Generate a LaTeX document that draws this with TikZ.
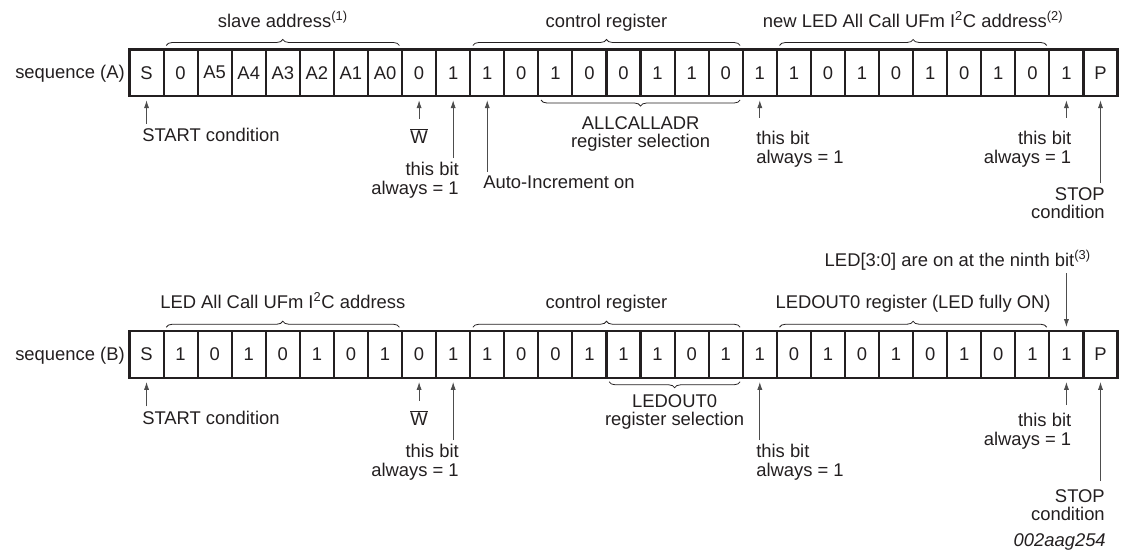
\documentclass[tikz,border=0pt]{standalone}
\usepackage{fontspec}
\setmainfont{Liberation Sans}
\usepackage{tikz}
\usetikzlibrary{positioning,arrows.meta,decorations.pathreplacing,calc}
\definecolor{ink}{HTML}{231F20}
\definecolor{wire}{HTML}{4D4D4D}
\newcommand{\cw}{34.07}
\newcommand{\lblsize}{\fontsize{13.8pt}{13.9pt}\selectfont}
\tikzset{
  bitbox/.style={rectangle,draw=ink,line width=1.6pt,minimum width=25.55pt,
    minimum height=34.9pt,inner sep=0pt,outer sep=0pt,text=ink},
  brc/.style={decorate,decoration={brace,amplitude=4.5pt},draw=ink,line width=0.6pt},
  brcd/.style={decorate,decoration={brace,mirror,amplitude=4.5pt},draw=ink,line width=0.6pt},
  ar/.style={-{Latex[length=5.8pt,width=3.8pt]},draw=wire,line width=0.6pt,
    shorten >=3.2pt,shorten <=3pt},
  lbl/.style={inner sep=0pt,text=ink},
}

\begin{document}
\begin{tikzpicture}[x=0.75pt,y=-0.75pt,font=\lblsize]
  \useasboundingbox (0,0) rectangle (1121,554);
  % sequence (A)
  \foreach \b [count=\i from 0] in {S,0,A5,A4,A3,A2,A1,A0,0,1,1,0,1,0,0,1,1,0,1,1,0,1,0,1,0,1,0,1,P}
    \node[bitbox] (A\i) at ({129.5+\cw*(\i+0.5)},72.75) {\b};
  \node[lbl,anchor=base east] (seqa) at (125,78) {sequence (A)};
  \foreach \p/\q in {1/7,10/17,19/26}
    \draw[brc] ([xshift=2pt,yshift=3pt]A\p.north west) -- ([xshift=-2pt,yshift=3pt]A\q.north east);
  \draw[brcd] ([xshift=2pt,yshift=-3pt]A12.south west) -- ([xshift=-2pt,yshift=-3pt]A17.south east);
  \node[lbl,anchor=base] (slva) at (282.8,27) {slave address\textsuperscript{(1)}};
  \node[lbl,anchor=base] (ctla) at (606.5,27) {control register};
  \node[lbl,anchor=base] (newa) at (913.1,27) {new LED All Call UFm I\textsuperscript{2}C address\textsuperscript{(2)}};
  \node[lbl,anchor=base west] (sta) at (142,141.5) {START condition};
  \node[lbl,anchor=base] (wra) at (419.1,143.5) {$\overline{\mbox{W}}$};
  \node[lbl,anchor=north east,align=right] (ona) at (459,162) {this bit\\always = 1};
  \node[lbl,anchor=base west] (aia) at (483,188.5) {Auto-Increment on};
  \node[lbl,anchor=north,align=center] (sela) at (640.6,116) {ALLCALLADR\\register selection};
  \node[lbl,anchor=north west,align=left] (onb) at (756,131) {this bit\\always = 1};
  \node[lbl,anchor=north east,align=right] (onc) at (1071.5,131) {this bit\\always = 1};
  \node[lbl,anchor=north east,align=right] (spa) at (1105,187) {STOP\\condition};
  \draw[ar] (A0 |- sta.north) -- (A0.south);
  \draw[ar,shorten <=7pt] (A8 |- wra.north) -- (A8.south);
  \draw[ar] (A9 |- ona.north) -- (A9.south);
  \draw[ar] (A10 |- aia.north) -- (A10.south);
  \draw[ar,shorten <=10pt] (A18 |- onb.north) -- (A18.south);
  \draw[ar,shorten <=10pt] (A27 |- onc.north) -- (A27.south);
  \draw[ar] (A28 |- spa.north) -- (A28.south);
  % sequence (B)
  \foreach \b [count=\i from 0] in {S,1,0,1,0,1,0,1,0,1,1,0,0,1,1,1,0,1,1,0,1,0,1,0,1,0,1,1,P}
    \node[bitbox] (B\i) at ({129.5+\cw*(\i+0.5)},354.5) {\b};
  \node[lbl,anchor=base east] (seqb) at (125,360) {sequence (B)};
  \foreach \p/\q in {1/7,10/17,19/26}
    \draw[brc] ([xshift=2pt,yshift=3pt]B\p.north west) -- ([xshift=-2pt,yshift=3pt]B\q.north east);
  \draw[brcd] ([xshift=2pt,yshift=-3pt]B14.south west) -- ([xshift=-2pt,yshift=-3pt]B17.south east);
  \node[lbl,anchor=base] (ledb) at (282.8,308) {LED All Call UFm I\textsuperscript{2}C address};
  \node[lbl,anchor=base] (ctlb) at (606.5,308) {control register};
  \node[lbl,anchor=base] (outb) at (913.1,308) {LEDOUT0 register (LED fully ON)};
  \node[lbl,anchor=base east] (ninb) at (1091,266.5) {LED[3:0] are on at the ninth bit\textsuperscript{(3)}};
  \node[lbl,anchor=base west] (stb) at (142,424) {START condition};
  \node[lbl,anchor=base] (wrb) at (419.1,425.5) {$\overline{\mbox{W}}$};
  \node[lbl,anchor=north east,align=right] (ond) at (459,444) {this bit\\always = 1};
  \node[lbl,anchor=north,align=center] (selb) at (674.6,394) {LEDOUT0\\register selection};
  \node[lbl,anchor=north west,align=left] (one) at (756,444) {this bit\\always = 1};
  \node[lbl,anchor=north east,align=right] (onf) at (1071.5,413) {this bit\\always = 1};
  \node[lbl,anchor=north east,align=right] (spb) at (1105,489) {STOP\\condition};
  \draw[ar] (B0 |- stb.north) -- (B0.south);
  \draw[ar,shorten <=7pt] (B8 |- wrb.north) -- (B8.south);
  \draw[ar] (B9 |- ond.north) -- (B9.south);
  \draw[ar] (B18 |- one.north) -- (B18.south);
  \draw[ar,shorten <=6pt] (B27 |- onf.north) -- (B27.south);
  \draw[ar,shorten <=6pt] (B28 |- spb.north) -- (B28.south);
  \draw[ar,shorten <=2pt] (B27 |- ninb.south) -- (B27.north);
  \node[lbl,anchor=base east,font=\lblsize\itshape] (fig) at (1106,546) {002aag254};
\end{tikzpicture}
\end{document}
